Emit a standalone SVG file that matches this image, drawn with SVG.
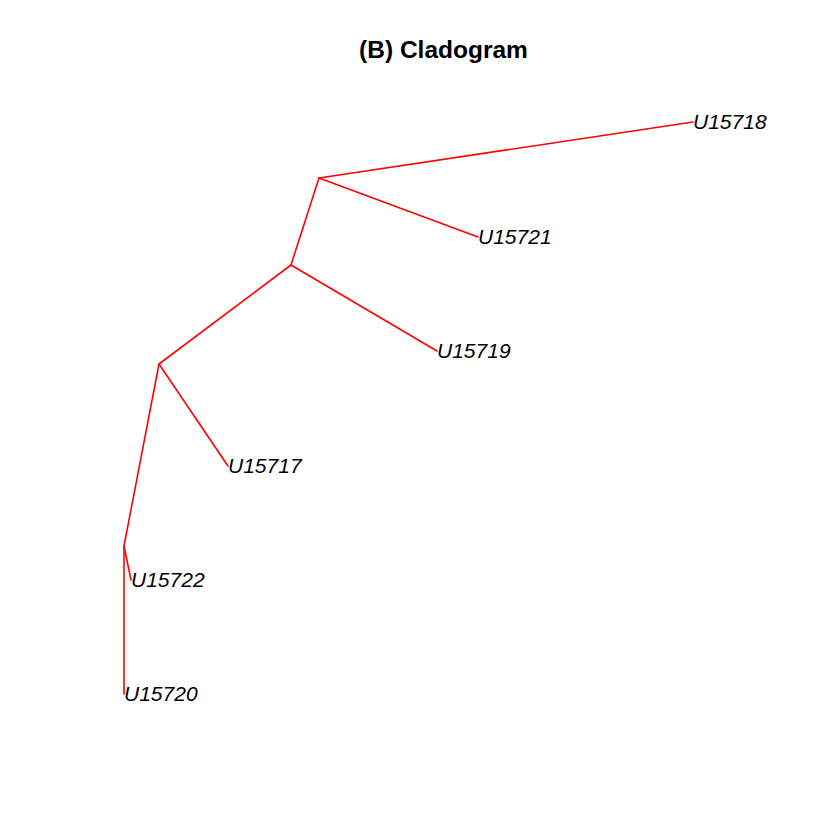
<svg xmlns="http://www.w3.org/2000/svg" width="840" height="840" viewBox="0 0 840 840">
<style>
.edge{stroke:#ff0000;stroke-width:1.6;fill:none;stroke-linecap:round}
.lab{font-family:"Liberation Sans",Arial,sans-serif;font-style:italic;font-size:21px;fill:#000}
.title{font-family:"Liberation Sans",Arial,sans-serif;font-weight:bold;font-size:24.5px;fill:#000}
</style>
<rect width="840" height="840" fill="#fff"/>
<text class="title" x="443.5" y="58" text-anchor="middle">(B) Cladogram</text>
<g id="connectors">
<line class="edge" x1="124" y1="546" x2="124" y2="694"/>
<line class="edge" x1="124" y1="546" x2="131" y2="580"/>
<line class="edge" x1="124" y1="546" x2="159" y2="364"/>
<line class="edge" x1="159" y1="364" x2="228" y2="466"/>
<line class="edge" x1="159" y1="364" x2="291" y2="265"/>
<line class="edge" x1="291" y1="265" x2="437" y2="351"/>
<line class="edge" x1="291" y1="265" x2="319" y2="178"/>
<line class="edge" x1="319" y1="178" x2="478" y2="237"/>
<line class="edge" x1="319" y1="178" x2="693" y2="122"/>
</g>
<g id="U15718"><text class="lab" x="693" y="129">U15718</text></g>
<g id="U15721"><text class="lab" x="478" y="244">U15721</text></g>
<g id="U15719"><text class="lab" x="437" y="358">U15719</text></g>
<g id="U15717"><text class="lab" x="228" y="473">U15717</text></g>
<g id="U15722"><text class="lab" x="131" y="587">U15722</text></g>
<g id="U15720"><text class="lab" x="124" y="701">U15720</text></g>
</svg>
